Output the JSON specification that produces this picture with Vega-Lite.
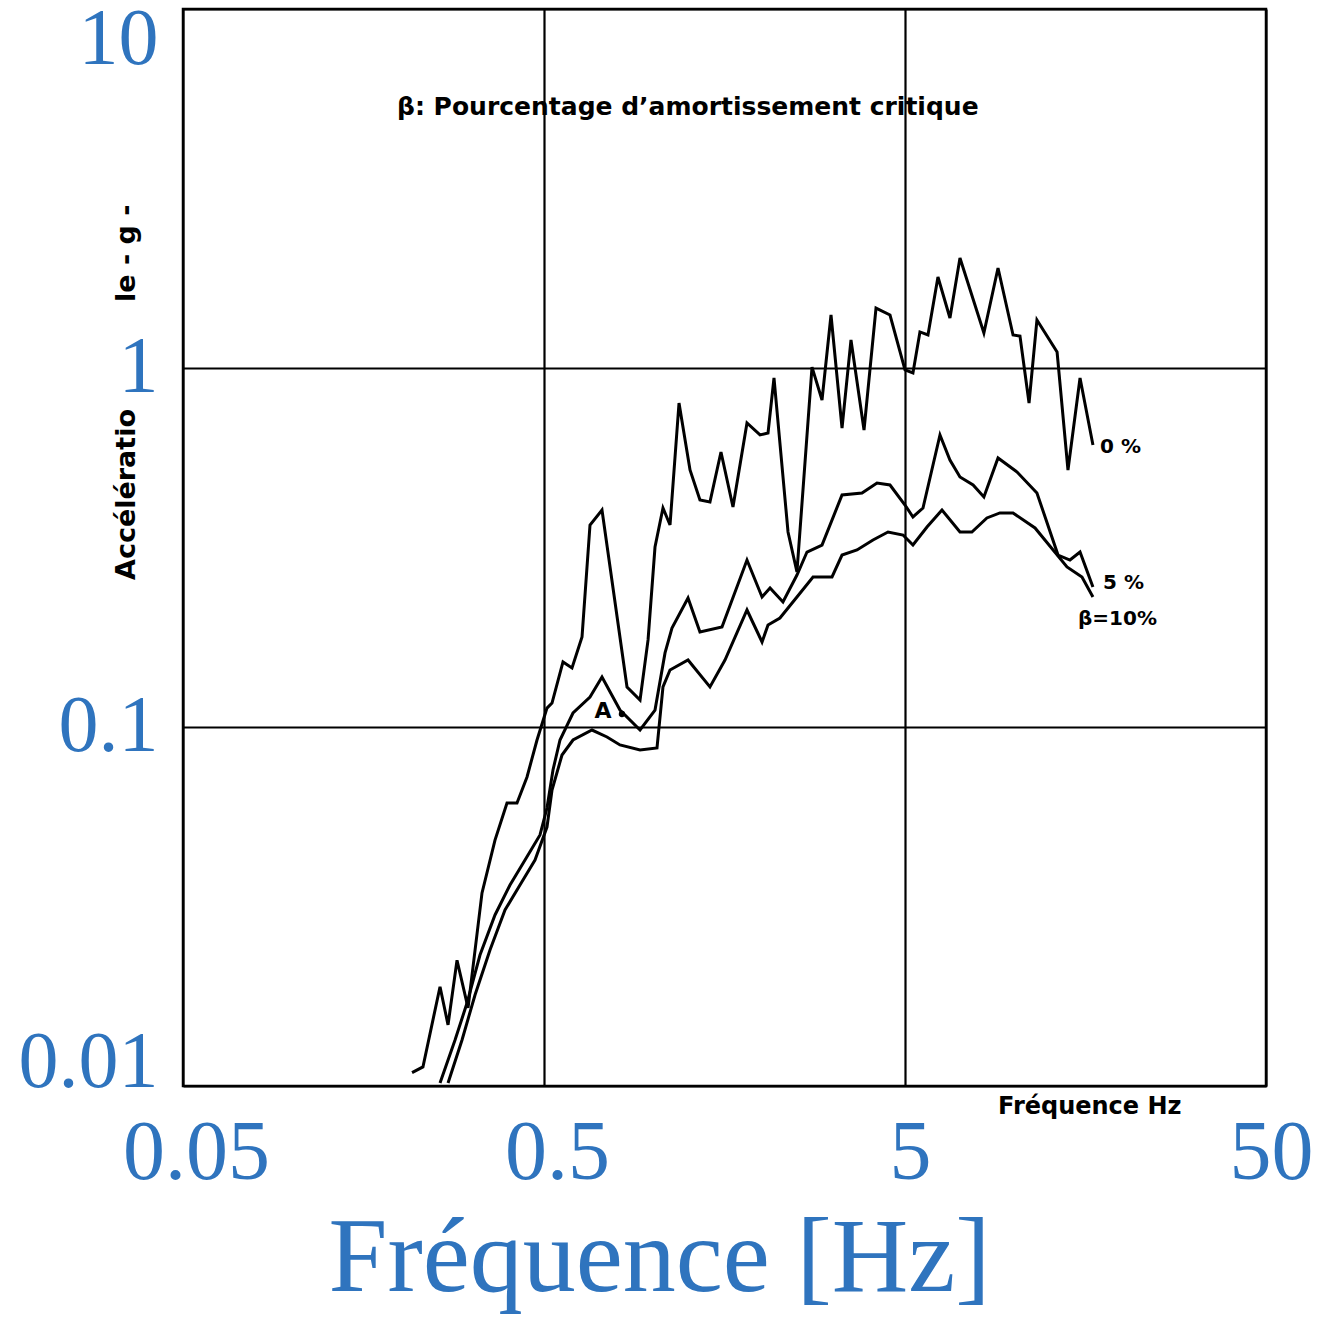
{
  "$schema": "https://vega.github.io/schema/vega-lite/v6.json",
  "width": 1083,
  "height": 1077,
  "autosize": {"type": "none"},
  "padding": {"left": 183, "top": 9, "right": 57, "bottom": 232},
  "background": "white",
  "config": {"view": {"stroke": "black", "strokeWidth": 2.5}},
  "layer": [
    {
      "data": {"values": [
        {"damping":"0 %","freq":0.2155,"acc":0.0109},{"damping":"0 %","freq":0.231,"acc":0.0113},{"damping":"0 %","freq":0.2576,"acc":0.0189},{"damping":"0 %","freq":0.2711,"acc":0.0148},{"damping":"0 %","freq":0.2871,"acc":0.0224},{"damping":"0 %","freq":0.308,"acc":0.0165},{"damping":"0 %","freq":0.3367,"acc":0.0345},{"damping":"0 %","freq":0.3658,"acc":0.0484},{"damping":"0 %","freq":0.3949,"acc":0.0614},{"damping":"0 %","freq":0.4209,"acc":0.0614},{"damping":"0 %","freq":0.4487,"acc":0.0726},{"damping":"0 %","freq":0.4782,"acc":0.092},{"damping":"0 %","freq":0.5096,"acc":0.1129},{"damping":"0 %","freq":0.5262,"acc":0.1166},{"damping":"0 %","freq":0.5644,"acc":0.1518},{"damping":"0 %","freq":0.5978,"acc":0.146},{"damping":"0 %","freq":0.6372,"acc":0.1781},{"damping":"0 %","freq":0.6705,"acc":0.3653},{"damping":"0 %","freq":0.7238,"acc":0.4022},{"damping":"0 %","freq":0.849,"acc":0.1293},{"damping":"0 %","freq":0.9226,"acc":0.1189},{"damping":"0 %","freq":0.971,"acc":0.1748},{"damping":"0 %","freq":1.015,"acc":0.3172},{"damping":"0 %","freq":1.068,"acc":0.4074},{"damping":"0 %","freq":1.117,"acc":0.3653},{"damping":"0 %","freq":1.183,"acc":0.799},{"damping":"0 %","freq":1.269,"acc":0.5198},{"damping":"0 %","freq":1.352,"acc":0.4288},{"damping":"0 %","freq":1.441,"acc":0.4233},{"damping":"0 %","freq":1.546,"acc":0.5834},{"damping":"0 %","freq":1.669,"acc":0.4101},{"damping":"0 %","freq":1.825,"acc":0.7027},{"damping":"0 %","freq":1.983,"acc":0.6508},{"damping":"0 %","freq":2.087,"acc":0.6592},{"damping":"0 %","freq":2.168,"acc":0.938},{"damping":"0 %","freq":2.371,"acc":0.3493},{"damping":"0 %","freq":2.51,"acc":0.2703},{"damping":"0 %","freq":2.763,"acc":1.006},{"damping":"0 %","freq":2.945,"acc":0.8145},{"damping":"0 %","freq":3.119,"acc":1.405},{"damping":"0 %","freq":3.346,"acc":0.6806},{"damping":"0 %","freq":3.543,"acc":1.197},{"damping":"0 %","freq":3.85,"acc":0.6719},{"damping":"0 %","freq":4.156,"acc":1.469},{"damping":"0 %","freq":4.544,"acc":1.405},{"damping":"0 %","freq":5.0,"acc":0.9873},{"damping":"0 %","freq":5.26,"acc":0.9684},{"damping":"0 %","freq":5.5,"acc":1.26},{"damping":"0 %","freq":5.789,"acc":1.236},{"damping":"0 %","freq":6.17,"acc":1.793},{"damping":"0 %","freq":6.66,"acc":1.378},{"damping":"0 %","freq":7.1,"acc":2.025},{"damping":"0 %","freq":8.27,"acc":1.252},{"damping":"0 %","freq":9.05,"acc":1.899},{"damping":"0 %","freq":9.96,"acc":1.236},{"damping":"0 %","freq":10.41,"acc":1.228},{"damping":"0 %","freq":11.03,"acc":0.799},{"damping":"0 %","freq":11.6,"acc":1.361},{"damping":"0 %","freq":13.19,"acc":1.108},{"damping":"0 %","freq":14.14,"acc":0.5198},{"damping":"0 %","freq":15.27,"acc":0.938},{"damping":"0 %","freq":16.58,"acc":0.6103},
        {"damping":"5 %","freq":0.2576,"acc":0.0102},{"damping":"5 %","freq":0.2835,"acc":0.01343},{"damping":"5 %","freq":0.306,"acc":0.01702},{"damping":"5 %","freq":0.3324,"acc":0.02317},{"damping":"5 %","freq":0.3658,"acc":0.02995},{"damping":"5 %","freq":0.4025,"acc":0.0363},{"damping":"5 %","freq":0.443,"acc":0.04261},{"damping":"5 %","freq":0.4874,"acc":0.05003},{"damping":"5 %","freq":0.5096,"acc":0.05947},{"damping":"5 %","freq":0.5295,"acc":0.07592},{"damping":"5 %","freq":0.5537,"acc":0.092},{"damping":"5 %","freq":0.6016,"acc":0.1094},{"damping":"5 %","freq":0.6705,"acc":0.1212},{"damping":"5 %","freq":0.7238,"acc":0.1378},{"damping":"5 %","freq":0.8118,"acc":0.1115},{"damping":"5 %","freq":0.9226,"acc":0.09808},{"damping":"5 %","freq":1.015,"acc":0.1115},{"damping":"5 %","freq":1.082,"acc":0.1608},{"damping":"5 %","freq":1.131,"acc":0.1887},{"damping":"5 %","freq":1.253,"acc":0.2287},{"damping":"5 %","freq":1.352,"acc":0.1839},{"damping":"5 %","freq":1.556,"acc":0.19},{"damping":"5 %","freq":1.825,"acc":0.2918},{"damping":"5 %","freq":2.009,"acc":0.2302},{"damping":"5 %","freq":2.114,"acc":0.2439},{"damping":"5 %","freq":2.296,"acc":0.2229},{"damping":"5 %","freq":2.51,"acc":0.2651},{"damping":"5 %","freq":2.676,"acc":0.3072},{"damping":"5 %","freq":2.945,"acc":0.3213},{"damping":"5 %","freq":3.346,"acc":0.4429},{"damping":"5 %","freq":3.801,"acc":0.4486},{"damping":"5 %","freq":4.182,"acc":0.4783},{"damping":"5 %","freq":4.544,"acc":0.4722},{"damping":"5 %","freq":5.0,"acc":0.4153},{"damping":"5 %","freq":5.26,"acc":0.3846},{"damping":"5 %","freq":5.608,"acc":0.4074},{"damping":"5 %","freq":6.25,"acc":0.6508},{"damping":"5 %","freq":6.66,"acc":0.5544},{"damping":"5 %","freq":7.1,"acc":0.4971},{"damping":"5 %","freq":7.72,"acc":0.4722},{"damping":"5 %","freq":8.27,"acc":0.4372},{"damping":"5 %","freq":9.05,"acc":0.5616},{"damping":"5 %","freq":10.22,"acc":0.5132},{"damping":"5 %","freq":11.6,"acc":0.4486},{"damping":"5 %","freq":13.27,"acc":0.3013},{"damping":"5 %","freq":14.32,"acc":0.2918},{"damping":"5 %","freq":15.27,"acc":0.3072},{"damping":"5 %","freq":16.58,"acc":0.2455},
        {"damping":"10 %","freq":0.2711,"acc":0.0102},{"damping":"10 %","freq":0.2964,"acc":0.01343},{"damping":"10 %","freq":0.322,"acc":0.01793},{"damping":"10 %","freq":0.3543,"acc":0.02392},{"damping":"10 %","freq":0.3899,"acc":0.03093},{"damping":"10 %","freq":0.429,"acc":0.0363},{"damping":"10 %","freq":0.4721,"acc":0.04261},{"damping":"10 %","freq":0.5096,"acc":0.05265},{"damping":"10 %","freq":0.5262,"acc":0.06675},{"damping":"10 %","freq":0.5608,"acc":0.08356},{"damping":"10 %","freq":0.6016,"acc":0.092},{"damping":"10 %","freq":0.6792,"acc":0.09808},{"damping":"10 %","freq":0.7473,"acc":0.09378},{"damping":"10 %","freq":0.8118,"acc":0.08913},{"damping":"10 %","freq":0.9226,"acc":0.0863},{"damping":"10 %","freq":1.028,"acc":0.08742},{"damping":"10 %","freq":1.068,"acc":0.1293},{"damping":"10 %","freq":1.117,"acc":0.1441},{"damping":"10 %","freq":1.253,"acc":0.1537},{"damping":"10 %","freq":1.441,"acc":0.1293},{"damping":"10 %","freq":1.586,"acc":0.1537},{"damping":"10 %","freq":1.825,"acc":0.2118},{"damping":"10 %","freq":2.009,"acc":0.1725},{"damping":"10 %","freq":2.087,"acc":0.1924},{"damping":"10 %","freq":2.252,"acc":0.2012},{"damping":"10 %","freq":2.51,"acc":0.2302},{"damping":"10 %","freq":2.781,"acc":0.2618},{"damping":"10 %","freq":3.139,"acc":0.2618},{"damping":"10 %","freq":3.346,"acc":0.3013},{"damping":"10 %","freq":3.681,"acc":0.3112},{"damping":"10 %","freq":4.077,"acc":0.3319},{"damping":"10 %","freq":4.487,"acc":0.3493},{"damping":"10 %","freq":4.937,"acc":0.3426},{"damping":"10 %","freq":5.26,"acc":0.3213},{"damping":"10 %","freq":5.753,"acc":0.3607},{"damping":"10 %","freq":6.33,"acc":0.4022},{"damping":"10 %","freq":7.1,"acc":0.3493},{"damping":"10 %","freq":7.66,"acc":0.3493},{"damping":"10 %","freq":8.43,"acc":0.3822},{"damping":"10 %","freq":9.16,"acc":0.3947},{"damping":"10 %","freq":9.96,"acc":0.3947},{"damping":"10 %","freq":11.46,"acc":0.3584},{"damping":"10 %","freq":14.05,"acc":0.2791},{"damping":"10 %","freq":15.46,"acc":0.2618},{"damping":"10 %","freq":16.58,"acc":0.2302}
      ]},
      "mark": {"type": "line", "color": "black", "strokeWidth": 3},
      "encoding": {
        "x": {
          "field": "freq", "type": "quantitative",
          "scale": {"type": "log", "domain": [0.05, 50], "nice": false},
          "axis": {
            "values": [0.05, 0.5, 5, 50], "format": "~g",
            "title": "Fréquence [Hz]",
            "titleFont": "Liberation Serif", "titleFontSize": 106, "titleFontWeight": "normal",
            "titleColor": "#2F74BE", "titleX": 476, "titleY": 204, "titleBaseline": "alphabetic", "titleAlign": "center",
            "labelFont": "Liberation Serif", "labelFontSize": 84, "labelColor": "#2F74BE",
            "labelPadding": 26, "ticks": false, "tickSize": 0, "labelFlush": false,
            "labelOverlap": false, "labelBound": false,
            "labelOffset": {"condition": {"test": "datum.value < 1", "value": 13}, "value": 5},
            "grid": true, "gridColor": "black", "gridWidth": 2.2, "gridOpacity": 1, "domain": false
          }
        },
        "y": {
          "field": "acc", "type": "quantitative",
          "scale": {"type": "log", "domain": [0.01, 10], "nice": false},
          "axis": {
            "values": [0.01, 0.1, 1, 10], "format": "~g", "title": null,
            "labelFont": "Liberation Serif", "labelFontSize": 80, "labelColor": "#2F74BE",
            "labelPadding": 25, "ticks": false, "tickSize": 0, "labelFlush": false,
            "labelOverlap": false, "labelBound": false,
            "labelOffset": {"condition": [{"test": "datum.value == 10", "value": 30}, {"test": "datum.value == 0.01", "value": -24}], "value": -1},
            "grid": true, "gridColor": "black", "gridWidth": 2.2, "gridOpacity": 1, "domain": false
          }
        },
        "detail": {"field": "damping"}
      }
    },
    {
      "data": {"values": [{"label": "β: Pourcentage d’amortissement critique", "freq": 0.1958, "acc": 5.33}]},
      "mark": {"type": "text", "align": "left", "baseline": "middle", "font": "DejaVu Sans", "fontWeight": "bold", "fontSize": 25, "color": "black"},
      "encoding": {"x": {"field": "freq", "type": "quantitative"}, "y": {"field": "acc", "type": "quantitative"}, "text": {"field": "label"}}
    },
    {
      "data": {"values": [
        {"label": "0 %", "freq": 17.35, "acc": 0.6026},
        {"label": "5 %", "freq": 17.68, "acc": 0.2519},
        {"label": "β=10%", "freq": 15.07, "acc": 0.2}
      ]},
      "mark": {"type": "text", "align": "left", "baseline": "middle", "font": "DejaVu Sans", "fontWeight": "bold", "fontSize": 20, "color": "black"},
      "encoding": {"x": {"field": "freq", "type": "quantitative"}, "y": {"field": "acc", "type": "quantitative"}, "text": {"field": "label"}}
    },
    {
      "data": {"values": [{"label": "Fréquence  Hz", "freq": 9.05, "acc": 0.00874}]},
      "mark": {"type": "text", "align": "left", "baseline": "middle", "font": "DejaVu Sans", "fontWeight": "bold", "fontSize": 24, "color": "black"},
      "encoding": {"x": {"field": "freq", "type": "quantitative"}, "y": {"field": "acc", "type": "quantitative"}, "text": {"field": "label"}}
    },
    {
      "data": {"values": [
        {"label": "Accélératio", "freq": 0.035, "acc": 0.2567},
        {"label": "le - g -", "freq": 0.035, "acc": 1.527}
      ]},
      "mark": {"type": "text", "align": "left", "baseline": "middle", "angle": 270, "font": "DejaVu Sans", "fontWeight": "bold", "fontSize": 27, "color": "black"},
      "encoding": {"x": {"field": "freq", "type": "quantitative"}, "y": {"field": "acc", "type": "quantitative"}, "text": {"field": "label"}}
    },
    {
      "data": {"values": [{"label": "A", "freq": 0.7284, "acc": 0.1108}]},
      "mark": {"type": "text", "align": "center", "baseline": "middle", "font": "DejaVu Sans", "fontWeight": "bold", "fontSize": 22, "color": "black"},
      "encoding": {"x": {"field": "freq", "type": "quantitative"}, "y": {"field": "acc", "type": "quantitative"}, "text": {"field": "label"}}
    },
    {
      "data": {"values": [{"freq": 0.822, "acc": 0.1087}]},
      "mark": {"type": "point", "filled": true, "color": "black", "size": 40, "opacity": 1},
      "encoding": {"x": {"field": "freq", "type": "quantitative"}, "y": {"field": "acc", "type": "quantitative"}}
    }
  ]
}
